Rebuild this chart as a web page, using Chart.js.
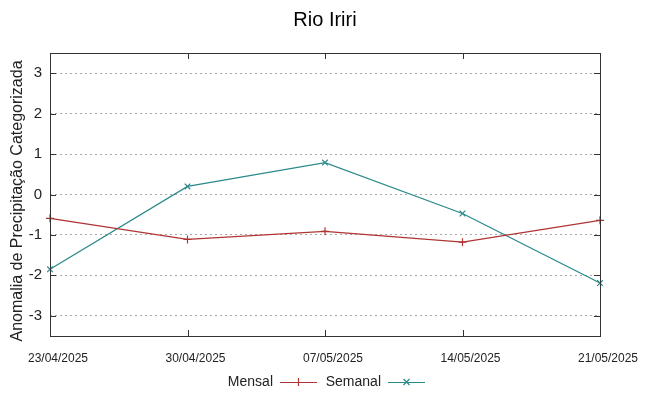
<!DOCTYPE html>
<html>
<head>
<meta charset="utf-8">
<script src="https://cdn.jsdelivr.net/npm/chart.js@4/dist/chart.umd.min.js"></script>
<style>
  html, body { margin: 0; padding: 0; background: #fff; }
  #wrap { width: 649px; height: 396px; }
</style>
</head>
<body>
<div id="wrap"><canvas id="c" width="649" height="396"></canvas></div>
<script>
var datas = ["23/04/2025", "30/04/2025", "07/05/2025", "14/05/2025", "21/05/2025"];
var mensal = [-0.59, -1.11, -0.91, -1.18, -0.64];
var semanal = [-1.85, 0.20, 0.79, -0.47, -2.19];
var yTicks = [-3, -2, -1, 0, 1, 2, 3];

var corMensal = "#b03434";
var corSemanal = "#2b8a8a";
var fonte = "'Liberation Sans', Arial, sans-serif";

// caixa em volta do grafico, ticks para dentro, titulos e legenda
var moldura = {
    id: "moldura",
    afterDraw: function(chart) {
        var ctx = chart.ctx;
        var a = chart.chartArea;
        var xs = chart.scales.x, ys = chart.scales.y;
        ctx.save();
        ctx.strokeStyle = "#333";
        ctx.lineWidth = 1;
        ctx.strokeRect(Math.round(a.left) + 0.5, Math.round(a.top) + 0.5,
                       Math.round(a.right - a.left), Math.round(a.bottom - a.top));
        ctx.beginPath();
        for (var i = 0; i < datas.length; i++) {
            var px = Math.round(xs.getPixelForValue(i)) + 0.5;
            ctx.moveTo(px, a.bottom); ctx.lineTo(px, a.bottom - 6);
            ctx.moveTo(px, a.top); ctx.lineTo(px, a.top + 6);
        }
        for (var j = 0; j < yTicks.length; j++) {
            var py = Math.round(ys.getPixelForValue(yTicks[j])) + 0.5;
            ctx.moveTo(a.left, py); ctx.lineTo(a.left + 6, py);
            ctx.moveTo(a.right, py); ctx.lineTo(a.right - 6, py);
        }
        ctx.stroke();

        // titulo
        ctx.fillStyle = "#000";
        ctx.font = "20px " + fonte;
        ctx.textAlign = "center";
        ctx.textBaseline = "middle";
        ctx.fillText("Rio Iriri", 325, 20);

        // titulo do eixo y
        ctx.save();
        ctx.translate(18, 201);
        ctx.rotate(-Math.PI / 2);
        ctx.fillStyle = "#222";
        ctx.font = "16px " + fonte;
        ctx.fillText("Anomalia de Precipitação Categorizada", 0, 0);
        ctx.restore();

        // legenda: texto e depois a amostra da linha
        ctx.font = "14px " + fonte;
        ctx.textAlign = "right";
        var ly = 382;
        var itens = [
            {txt: "Mensal", cor: corMensal, x: 273, forma: "+"},
            {txt: "Semanal", cor: corSemanal, x: 381, forma: "x"}
        ];
        itens.forEach(function(it) {
            ctx.fillStyle = "#222";
            ctx.fillText(it.txt, it.x, ly);
            var x0 = it.x + 7, x1 = it.x + 44, xm = (x0 + x1) / 2;
            ctx.strokeStyle = it.cor;
            ctx.lineWidth = 1.2;
            ctx.beginPath();
            ctx.moveTo(x0, ly + 0.5); ctx.lineTo(x1, ly + 0.5);
            if (it.forma == "+") {
                ctx.moveTo(xm, ly - 4); ctx.lineTo(xm, ly + 4);
            } else {
                ctx.moveTo(xm - 3, ly - 3); ctx.lineTo(xm + 3, ly + 3);
                ctx.moveTo(xm + 3, ly - 3); ctx.lineTo(xm - 3, ly + 3);
            }
            ctx.stroke();
        });
        ctx.restore();
    }
};

new Chart(document.getElementById("c"), {
    type: "line",
    data: {
        labels: datas,
        datasets: [{
            label: "Mensal",
            data: mensal,
            borderColor: corMensal,
            backgroundColor: corMensal,
            borderWidth: 1.3,
            pointStyle: "cross",
            pointRadius: 4,
            pointBorderWidth: 1.2,
            tension: 0,
            fill: false
        }, {
            label: "Semanal",
            data: semanal,
            borderColor: corSemanal,
            backgroundColor: corSemanal,
            borderWidth: 1.3,
            pointStyle: "crossRot",
            pointRadius: 4,
            pointBorderWidth: 1.2,
            tension: 0,
            fill: false
        }]
    },
    options: {
        responsive: false,
        animation: false,
        layout: { padding: { top: 53, left: 0, right: 49, bottom: 0 } },
        plugins: {
            legend: { display: false },
            title: { display: false },
            tooltip: { enabled: false }
        },
        scales: {
            x: {
                offset: false,
                grid: { display: false, drawTicks: false },
                border: { display: false },
                ticks: {
                    color: "#222",
                    font: { family: fonte, size: 12 },
                    maxRotation: 0,
                    autoSkip: false,
                    labelOffset: 8,
                    padding: 15
                },
                afterFit: function(s) { s.height = 60; }
            },
            y: {
                min: -3.5,
                max: 3.5,
                afterBuildTicks: function(s) {
                    s.ticks = yTicks.map(function(v) { return {value: v}; });
                },
                grid: { color: "#a8a8a8", lineWidth: 1, drawTicks: false },
                border: { display: false, dash: [2, 3] },
                ticks: {
                    color: "#222",
                    font: { family: fonte, size: 15 },
                    padding: 8
                },
                afterFit: function(s) { s.width = 50; }
            }
        }
    },
    plugins: [moldura]
});
</script>
</body>
</html>
